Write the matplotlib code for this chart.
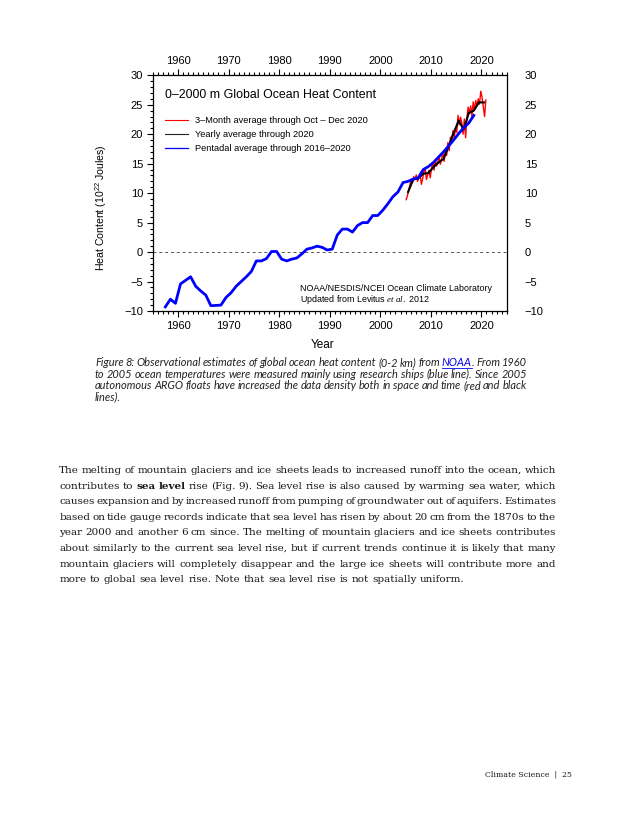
import matplotlib
matplotlib.use("Agg")
import matplotlib.pyplot as plt
from matplotlib.lines import Line2D
from matplotlib.ticker import MultipleLocator
import numpy as np

plt.rcParams['mathtext.fontset'] = 'custom'
plt.rcParams['mathtext.rm'] = 'Liberation Sans'
plt.rcParams['mathtext.it'] = 'Liberation Serif:italic'
plt.rcParams['font.family'] = ['Liberation Sans', 'DejaVu Sans']

# ---------------- data ----------------
pentadal_years = [1957.5 + i for i in range(62)]
pentadal_values = [-9.3, -8.0, -8.7, -5.4, -4.8, -4.2, -5.8, -6.6, -7.3, -9.1,
                   -9.05, -9.0, -7.7, -6.9, -5.8, -5.0, -4.2, -3.3, -1.5, -1.5,
                   -1.1, 0.1, 0.1, -1.2, -1.5, -1.2, -1.0, -0.3, 0.5, 0.7,
                   1.0, 0.8, 0.35, 0.5, 2.9, 3.9, 3.9, 3.4, 4.5, 5.0,
                   5.0, 6.2, 6.2, 7.1, 8.2, 9.4, 10.2, 11.8, 12.0, 12.4,
                   12.6, 14.0, 14.5, 15.2, 16.1, 17.0, 18.0, 19.0, 20.1, 21.1,
                   21.9, 23.2]

yearly_years = [2005.5 + i for i in range(16)]
yearly_values = [10.2, 12.3, 12.5, 13.3, 13.4, 14.4, 15.2, 15.8, 17.9, 20.2,
                 22.3, 20.8, 23.6, 24.0, 25.4, 25.4]

monthly3_years = [2005.125 + 0.25 * i for i in range(64)]
monthly3_values = [8.9, 9.6, 10.5, 11.5,
                   12.2, 11.8, 12.8, 12.4,
                   13.1, 12.0, 12.6, 13.3,
                   11.5, 12.4, 13.6, 14.3,
                   12.3, 13.1, 13.9, 12.6,
                   14.2, 15.2, 13.9, 15.7,
                   14.6, 15.3, 16.3, 14.9,
                   15.8, 16.9, 15.4, 17.2,
                   16.4, 18.6, 17.2, 19.5,
                   18.8, 20.6, 19.4, 21.0,
                   20.3, 23.2, 21.6, 22.9,
                   21.9, 20.0, 22.6, 19.4,
                   22.7, 24.6, 23.5, 24.8,
                   23.0, 25.5, 24.1, 25.7,
                   24.9, 26.0, 25.1, 27.3,
                   26.3, 24.6, 23.0, 25.8]

legend_labels = ["3\u2013Month average through Oct \u2013 Dec 2020",
                 "Yearly average through 2020",
                 "Pentadal average through 2016\u20132020"]
chart_title = "0\u20132000 m Global Ocean Heat Content"
x_ticks = [1960, 1970, 1980, 1990, 2000, 2010, 2020]
y_ticks = [-10, -5, 0, 5, 10, 15, 20, 25, 30]

caption_lines = [
    "Figure 8: Observational estimates of global ocean heat content (0-2 km) from NOAA. From 1960",
    "to 2005 ocean temperatures were measured mainly using research ships (blue line). Since 2005",
    "autonomous ARGO floats have increased the data density both in space and time (red and black",
    "lines).",
]
body_lines = [
    "The melting of mountain glaciers and ice sheets leads to increased runoff into the ocean, which",
    "contributes to sea level rise (Fig. 9). Sea level rise is also caused by warming sea water, which",
    "causes expansion and by increased runoff from pumping of groundwater out of aquifers. Estimates",
    "based on tide gauge records indicate that sea level has risen by about 20 cm from the 1870s to the",
    "year 2000 and another 6 cm since. The melting of mountain glaciers and ice sheets contributes",
    "about similarly to the current sea level rise, but if current trends continue it is likely that many",
    "mountain glaciers will completely disappear and the large ice sheets will contribute more and",
    "more to global sea level rise. Note that sea level rise is not spatially uniform.",
]
footer_text = "Climate Science  |  25"

# ---------------- figure ----------------
W, H = 630, 815
fig = plt.figure(figsize=(W / 100, H / 100), dpi=100)
fig.patch.set_facecolor('white')


def fx(x):
    return x / W


def fy(y):
    return 1 - y / H


ax_l, ax_r, ax_t, ax_b = 152.7, 506.7, 75.3, 311.0
ax = fig.add_axes([fx(ax_l), fy(ax_b), (ax_r - ax_l) / W, (ax_b - ax_t) / H])
ax.set_xlim(1955, 2025)
ax.set_ylim(-10, 30)

ax.axhline(0, color='#555555', lw=0.7, ls=(0, (3, 3)), zorder=1)
ax.plot(monthly3_years, monthly3_values, color='#ff0000', lw=1.0, zorder=2)
ax.plot(yearly_years, yearly_values, color='black', lw=1.5, zorder=3)
ax.plot(pentadal_years, pentadal_values, color='#0000ff', lw=2.0, zorder=4,
        solid_joinstyle='round')

for s in ax.spines.values():
    s.set_linewidth(0.9)

ax.set_xticks(x_ticks)
ax.set_yticks(y_ticks)
ax.xaxis.set_minor_locator(MultipleLocator(1))
ax.yaxis.set_minor_locator(MultipleLocator(1))
ax.tick_params(which='both', direction='out', top=True, right=True,
               labeltop=True, labelright=False, width=0.8, labelsize=8)
ax.tick_params(which='major', length=4)
ax.tick_params(which='minor', length=2)
ax.tick_params(axis='x', which='major', pad=3)
ax.tick_params(axis='y', which='major', pad=3)

ax2 = ax.twinx()
ax2.set_ylim(-10, 30)
ax2.set_yticks(y_ticks)
ax2.yaxis.set_minor_locator(MultipleLocator(1))
ax2.tick_params(which='both', direction='out', length=0, labelsize=8, pad=13)
for s in ax2.spines.values():
    s.set_visible(False)

handles = [Line2D([], [], color='#ff0000', lw=0.8),
           Line2D([], [], color='#222222', lw=0.8),
           Line2D([], [], color='#0000ff', lw=0.9)]
ax.legend(handles, legend_labels, loc='upper left',
          bbox_to_anchor=(fx(165), fy(116)), bbox_transform=fig.transFigure,
          frameon=False, borderpad=0, borderaxespad=0, handlelength=2.45,
          handletextpad=0.75, labelspacing=0.56, prop={'size': 6.7})

fig.text(fx(165), fy(97.5), chart_title, fontsize=8.9, ha='left', va='baseline')
fig.text(fx(300), fy(288.5), "NOAA/NESDIS/NCEI Ocean Climate Laboratory",
         fontsize=6.4, ha='left', va='center')
fig.text(fx(300), fy(299.5), r"Updated from Levitus $\mathit{et\ al.}$ 2012",
         fontsize=6.4, ha='left', va='center')
fig.text(fx(101.7), fy(207.5), r"Heat Content (10$^{\mathregular{22}}$ Joules)",
         fontsize=7.6, rotation=90, ha='center', va='center')
fig.text(fx(323), fy(345), "Year", fontsize=8.5, ha='center', va='center')

# ---------------- text blocks ----------------
renderer = fig.canvas.get_renderer()


def measure(s, props):
    t = fig.text(0, 0, s, **props)
    w = t.get_window_extent(renderer).width
    t.remove()
    return w


def draw_words(words, plist, x0, x1, ybase, justify, base_props, links=()):
    widths = [measure(w, p) for w, p in zip(words, plist)]
    space = measure('a a', base_props) - measure('aa', base_props)
    if justify and len(words) > 1:
        gap = (x1 - x0 - sum(widths)) / (len(words) - 1)
    else:
        gap = space
    x = x0
    for j, (w, wd, p) in enumerate(zip(words, widths, plist)):
        if j in links:
            core = w.rstrip('.,')
            rest = w[len(core):]
            lp = dict(p)
            lp['color'] = '#0000ee'
            fig.text(fx(x), fy(ybase), core, ha='left', va='baseline', **lp)
            cw = measure(core, lp)
            fig.add_artist(Line2D([fx(x), fx(x + cw)], [fy(ybase + 1.6)] * 2,
                                  color='#0000ee', lw=0.6,
                                  transform=fig.transFigure))
            if rest:
                fig.text(fx(x + cw), fy(ybase), rest, ha='left', va='baseline', **p)
        else:
            fig.text(fx(x), fy(ybase), w, ha='left', va='baseline', **p)
        x += wd + gap


cap_props = dict(family=['Lato', 'DejaVu Sans'], style='italic', fontsize=7.9,
                 color='#222222')
cap_y = [366.0, 377.5, 389.0, 400.5]
for i, line in enumerate(caption_lines):
    words = line.split(' ')
    links = [j for j, w in enumerate(words) if w.startswith('NOAA')]
    draw_words(words, [cap_props] * len(words), 95, 527, cap_y[i], i < 3,
               cap_props, links=links)

body_props = dict(family=['DejaVu Serif'], fontsize=7.5, color='#1a1a1a')
body_y = [473, 488.6, 504.2, 519.8, 535.4, 551.0, 566.6, 582.2]
for i, line in enumerate(body_lines):
    words = line.split(' ')
    plist = []
    for j, w in enumerate(words):
        p = dict(body_props)
        if i == 1 and j in (2, 3):
            p['weight'] = 'bold'
        plist.append(p)
    draw_words(words, plist, 59.3, 556, body_y[i], i < 7, body_props)

fig.text(fx(571.7), fy(776), footer_text, family=['DejaVu Serif'], fontsize=5.6,
         ha='right', va='baseline', color='#1a1a1a')

fig.savefig("out.png", dpi=100, facecolor='white')
